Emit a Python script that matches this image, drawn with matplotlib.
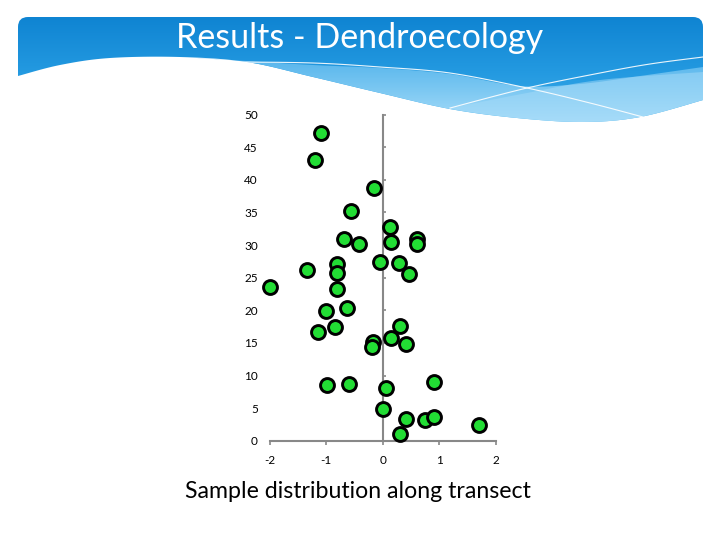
import numpy as np
import matplotlib
matplotlib.use("Agg")
import matplotlib.pyplot as plt
from matplotlib.path import Path
from matplotlib.patches import PathPatch, Polygon
from matplotlib.colors import LinearSegmentedColormap

plt.rcParams['font.family'] = ['Lato', 'DejaVu Sans']
plt.rcParams['axes.unicode_minus'] = False

# ---- data ----
x_vals = [-1.09, -1.19, -0.15, -0.56, 0.13, -0.69, -0.42, 0.15, 0.61, 0.61,
          -0.05, 0.28, -0.80, -1.34, -0.80, 0.47,
          -2.00, -0.80, -0.63, -1.00, -0.84, -1.15, 0.30, -0.17, -0.19, 0.15,
          0.42, -0.99, -0.59, 0.05, 0.90, 0.01, 0.41, 0.74, 0.91, 1.70, 0.31]
y_vals = [47.2, 43.0, 38.8, 35.3, 32.7, 30.9, 30.1, 30.5, 30.9, 30.1,
          27.4, 27.2, 27.1, 26.2, 25.7, 25.6,
          23.6, 23.2, 20.3, 19.9, 17.5, 16.7, 17.6, 15.1, 14.4, 15.8,
          14.9, 8.6, 8.7, 8.1, 9.0, 4.8, 3.4, 3.2, 3.7, 2.4, 1.1]
x_ticks = [-2, -1, 0, 1, 2]
x_tick_labels = ['-2', '-1', '0', '1', '2']
y_ticks = [0, 5, 10, 15, 20, 25, 30, 35, 40, 45, 50]
y_tick_labels = ['0', '5', '10', '15', '20', '25', '30', '35', '40', '45', '50']
title_text = "Results - Dendroecology"
subtitle_text = "Sample distribution along transect"

W, H = 720, 540
fig = plt.figure(figsize=(7.2, 5.4), dpi=100)
fig.patch.set_facecolor('white')


def smooth(pts, n=12):
    """Catmull-Rom smoothing of decorative header outline (not data)."""
    p = np.array(pts, dtype=float)
    p = np.vstack([p[0], p, p[-1]])
    out = []
    for i in range(1, len(p) - 2):
        p0, p1, p2, p3 = p[i - 1], p[i], p[i + 1], p[i + 2]
        for t in np.linspace(0, 1, n, endpoint=False):
            t2, t3 = t * t, t * t * t
            out.append(0.5 * ((2 * p1) + (-p0 + p2) * t +
                              (2 * p0 - 5 * p1 + 4 * p2 - p3) * t2 +
                              (-p0 + 3 * p1 - 3 * p2 + p3) * t3))
    out.append(p[-2])
    return [tuple(q) for q in out]


# ---- decorative header in pixel coordinates ----
bg = fig.add_axes([0, 0, 1, 1], zorder=0)
bg.set_xlim(0, W)
bg.set_ylim(H, 0)
bg.axis('off')

wave = smooth([(18, 76), (60, 65), (110, 58), (180, 57), (247, 62), (313, 77), (380, 93),
               (450, 109), (517, 118), (583, 122), (640, 117), (703, 100)])
r = 10
left, right, top = 18, 703, 17
verts = [(left, 76), (left, top + r), (left, top), (left + r, top),
         (right - r, top), (right, top), (right, top + r), (right, 100)]
codes = [Path.MOVETO, Path.LINETO, Path.CURVE3, Path.CURVE3,
         Path.LINETO, Path.CURVE3, Path.CURVE3, Path.LINETO]
for p in wave[::-1][1:]:
    verts.append(p)
    codes.append(Path.LINETO)
verts.append((left, 76))
codes.append(Path.CLOSEPOLY)
header_path = Path(verts, codes)
patch = PathPatch(header_path, facecolor='none', edgecolor='none')
bg.add_patch(patch)

cmap_dark = LinearSegmentedColormap.from_list('d', ['#0f84d2', '#2399e0', '#40b0ec'])
grad = np.linspace(0, 1, 256).reshape(-1, 1)
im = bg.imshow(grad, extent=[left, right, 125, top], cmap=cmap_dark, aspect='auto',
               origin='upper', zorder=1)
im.set_clip_path(patch)

band_top = smooth([(180, 57), (230, 60), (313, 65), (380, 68), (450, 74), (520, 86),
                   (580, 84), (640, 76), (703, 67)])
band_bottom = smooth([(703, 100), (640, 117), (583, 122), (517, 118), (450, 109),
                      (380, 93), (313, 77), (247, 62), (180, 57)])
band = Polygon(band_top + band_bottom, closed=True, facecolor='none', edgecolor='none')
bg.add_patch(band)
cmap_light = LinearSegmentedColormap.from_list('l', ['#52b3ec', '#7cc8f2', '#aadefa'])
im2 = bg.imshow(grad, extent=[left, right, 125, 55], cmap=cmap_light, aspect='auto',
                origin='upper', zorder=2)
im2.set_clip_path(band)

band2_pts = smooth([(450, 108), (527, 93), (600, 80), (703, 72)]) + \
    smooth([(703, 100), (640, 117), (583, 122), (517, 118), (450, 109)])
band2 = Polygon(band2_pts, closed=True, facecolor='#a6dbf8', edgecolor='none',
                alpha=0.5, zorder=3)
bg.add_patch(band2)

l1 = smooth([(237, 62), (313, 63), (380, 67), (450, 73), (527, 88), (590, 103), (643, 117)])
l2 = smooth([(450, 108), (527, 88), (600, 73), (650, 64), (703, 57)])
bg.plot([p[0] for p in l1], [p[1] for p in l1], color='white', lw=0.8, alpha=0.9, zorder=4)
bg.plot([p[0] for p in l2], [p[1] for p in l2], color='white', lw=0.8, alpha=0.9, zorder=4)

bg.text(360, 38, title_text, color='white', fontsize=24.5, ha='center', va='center', zorder=5)
bg.text(358, 492, subtitle_text, color='black', fontsize=16.7, ha='center', va='center',
        zorder=5)

# ---- scatter chart ----
ax = fig.add_axes([269.7 / W, 1 - 440.7 / H, 226 / W, 326 / H], zorder=2)
ax.patch.set_alpha(0)
ax.set_xlim(-2, 2)
ax.set_ylim(0, 50)

ax.scatter(x_vals, y_vals, s=100, facecolor='#22dd34', edgecolor='black',
           linewidths=2.1, zorder=5, clip_on=False)

grey = '#888888'
ax.spines['top'].set_visible(False)
ax.spines['left'].set_visible(False)
ax.spines['right'].set_position(('data', 0))
ax.spines['right'].set_color(grey)
ax.spines['right'].set_linewidth(1.5)
ax.spines['bottom'].set_color(grey)
ax.spines['bottom'].set_linewidth(1.5)

ax.set_xticks(x_ticks)
ax.set_xticklabels(x_tick_labels)
ax.set_yticks(y_ticks)
ax.set_yticklabels(y_tick_labels)
ax.yaxis.set_ticks_position('both')
ax.tick_params(axis='y', left=False, right=True, labelleft=True, labelright=False,
               direction='out', length=2.5, width=1.2, color=grey, pad=6, labelsize=8.5)
ax.tick_params(axis='x', direction='out', length=3, width=1.2, color=grey, pad=7,
               labelsize=8.5)

fig.savefig('out.png', dpi=100)
